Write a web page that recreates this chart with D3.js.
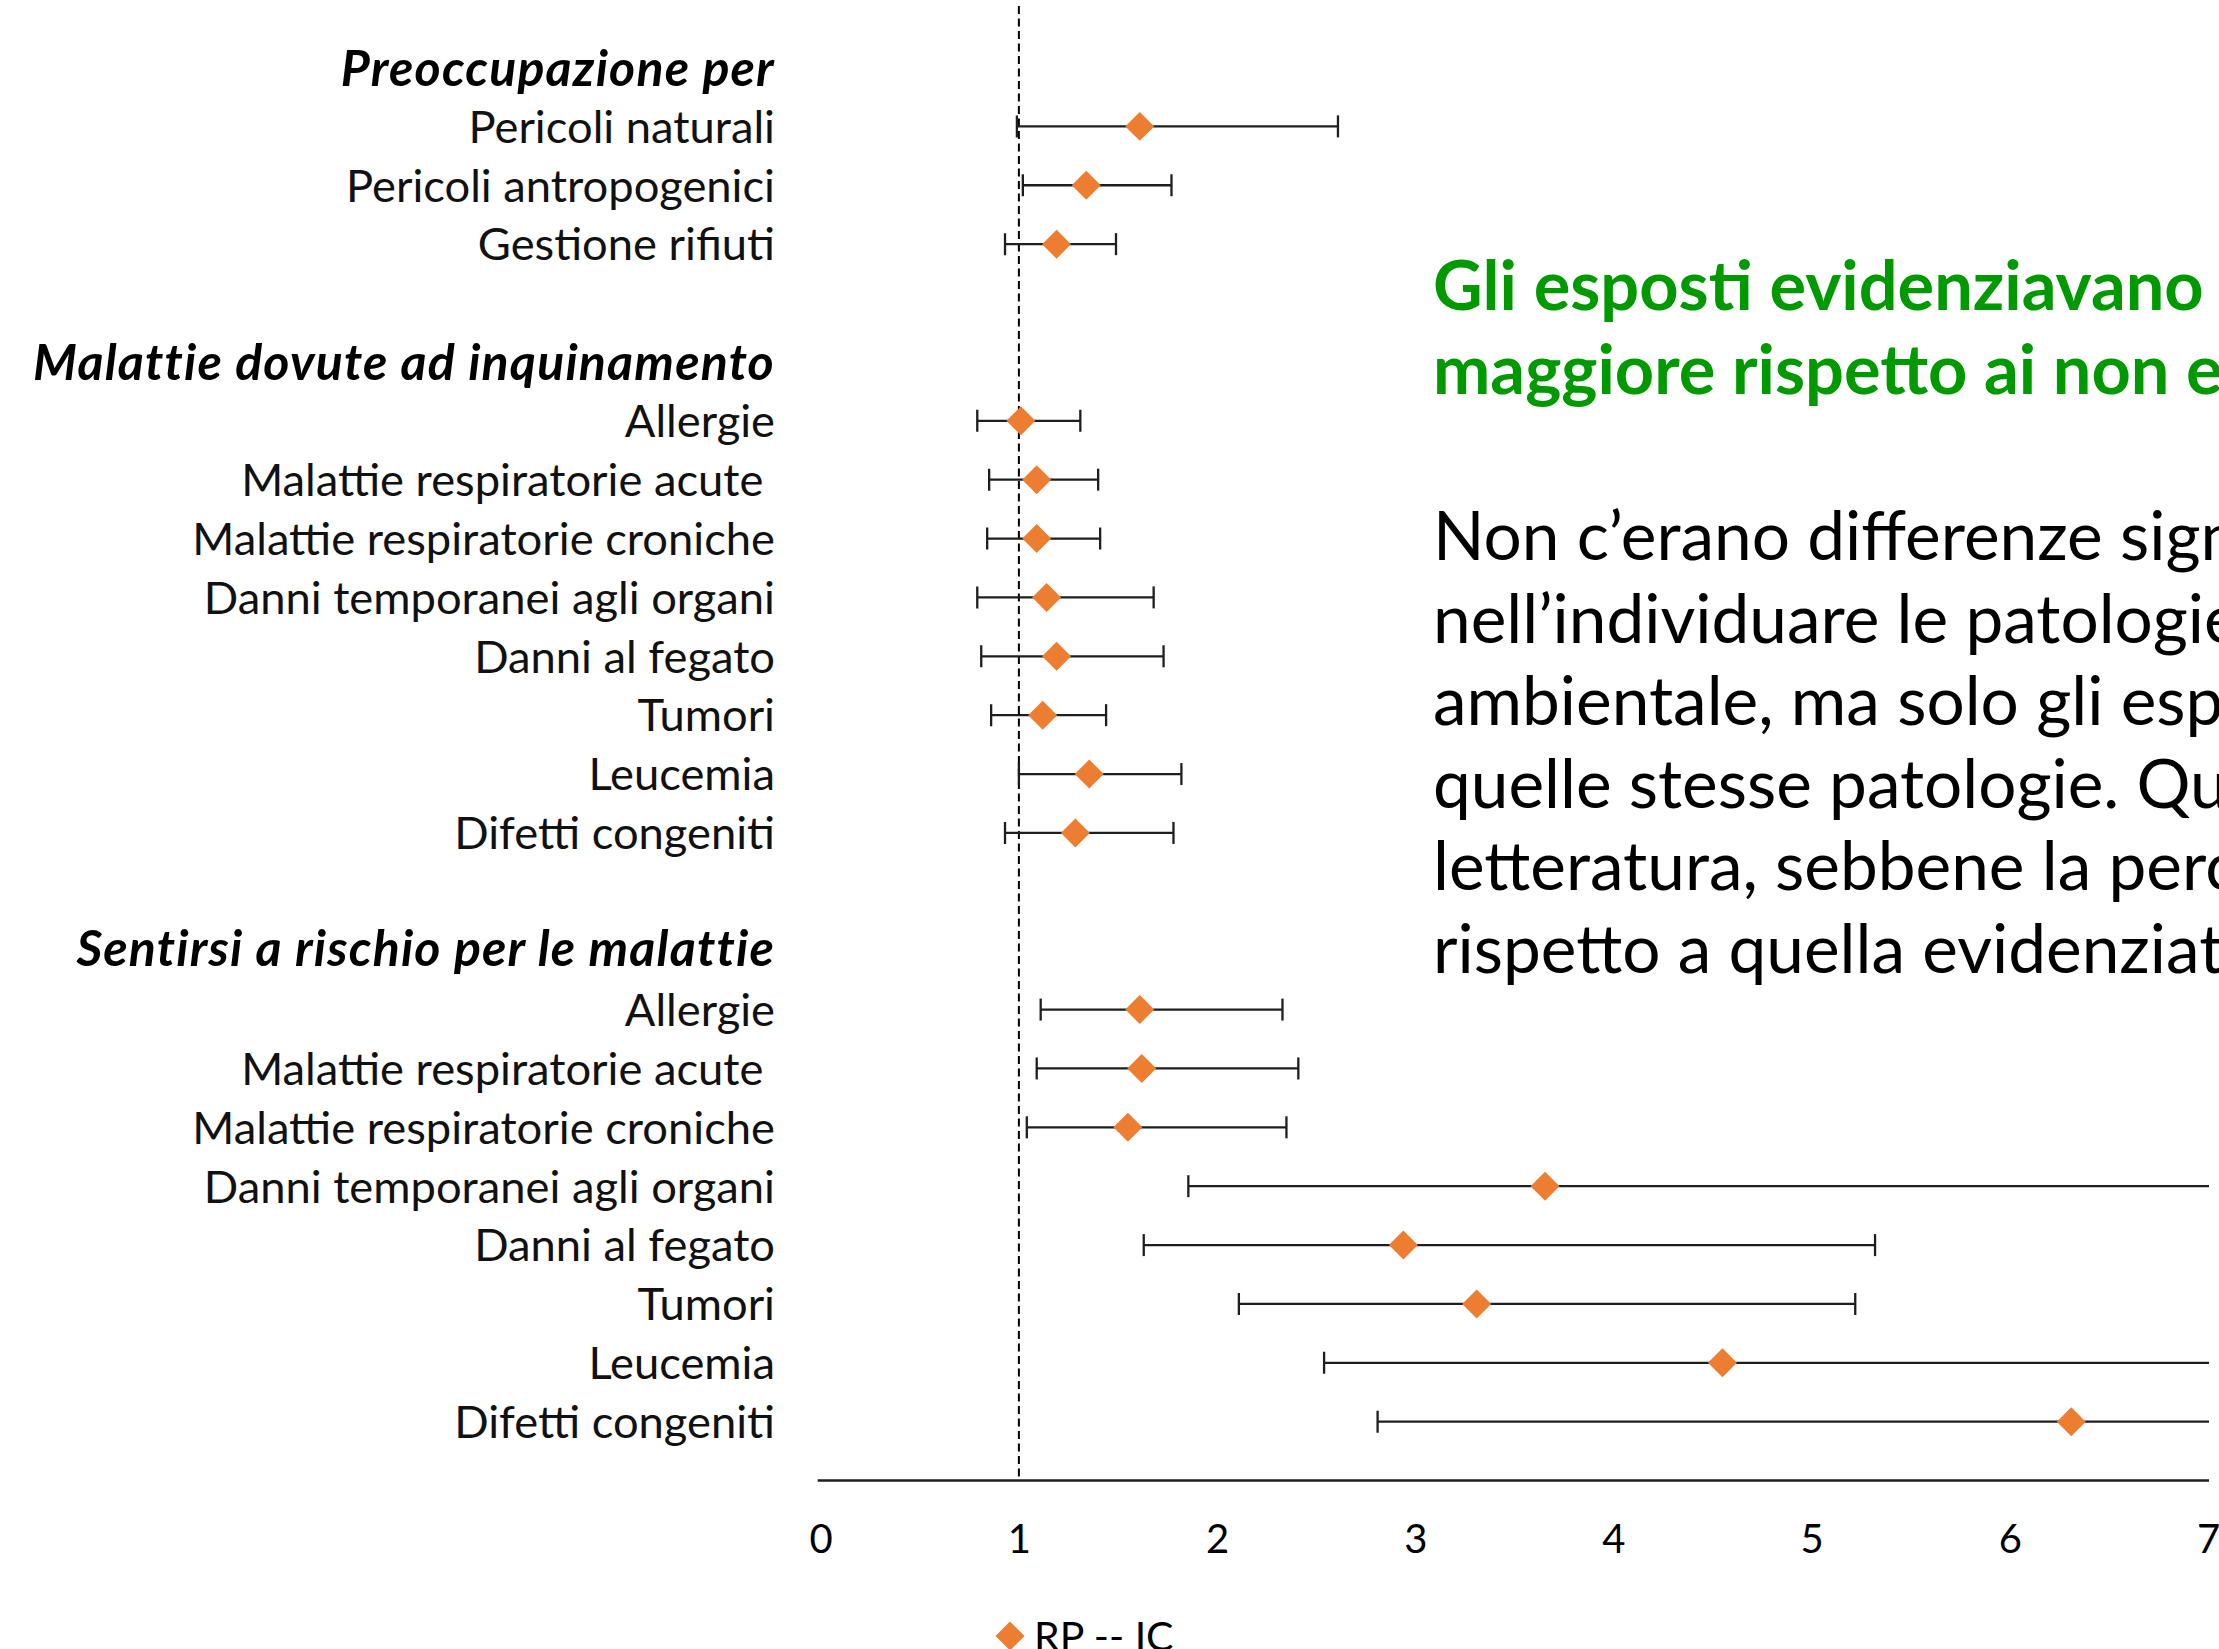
<!DOCTYPE html>
<html>
<head>
<meta charset="utf-8">
<script src="https://cdn.jsdelivr.net/npm/d3@7/dist/d3.min.js"></script>
<style>
  html, body { margin: 0; padding: 0; background: #ffffff; overflow: hidden; }
  svg { display: block; }
  text { white-space: pre; }
</style>
</head>
<body>
<svg id="chart" width="2219" height="1649"></svg>
<script>
// ---------- DATA ----------
const group1Title = "Preoccupazione per";
const group1Labels = ["Pericoli naturali", "Pericoli antropogenici", "Gestione rifiuti"];
const group1RP   = [1.61, 1.34, 1.19];
const group1Low  = [0.99, 1.02, 0.93];
const group1High = [2.61, 1.77, 1.49];

const group2Title = "Malattie dovute ad inquinamento";
const group2Labels = ["Allergie", "Malattie respiratorie acute ", "Malattie respiratorie croniche",
  "Danni temporanei agli organi", "Danni al fegato", "Tumori", "Leucemia", "Difetti congeniti"];
const group2RP   = [1.01, 1.09, 1.09, 1.14, 1.19, 1.12, 1.355, 1.285];
const group2Low  = [0.79, 0.85, 0.84, 0.79, 0.81, 0.86, 1.00, 0.93];
const group2High = [1.31, 1.40, 1.41, 1.68, 1.73, 1.44, 1.82, 1.78];

const group3Title = "Sentirsi a rischio per le malattie";
const group3Labels = ["Allergie", "Malattie respiratorie acute ", "Malattie respiratorie croniche",
  "Danni temporanei agli organi", "Danni al fegato", "Tumori", "Leucemia", "Difetti congeniti"];
const group3RP   = [1.61, 1.62, 1.55, 3.655, 2.94, 3.31, 4.55, 6.31];
const group3Low  = [1.11, 1.09, 1.04, 1.855, 1.63, 2.11, 2.54, 2.81];
const group3High = [2.33, 2.41, 2.35, 7.60, 5.32, 5.22, 8.10, 14.20];

const xTicks = [0, 1, 2, 3, 4, 5, 6, 7];
const referenceValue = 1;
const legendLabel = "RP -- IC";

const headlineLines = [
  "Gli esposti evidenziavano una",
  "maggiore rispetto ai non esposti"
];
const bodyLines = [
  "Non c\u2019erano differenze significative",
  "nell\u2019individuare le patologie legate",
  "ambientale, ma solo gli esposti",
  "quelle stesse patologie. Questo",
  "letteratura, sebbene la percezione",
  "rispetto a quella evidenziata in"
];

// ---------- LAYOUT ----------
const W = 2219, H = 1649;
const ORANGE = "#ED7D31";
const LINE = "#1e1e1e";
const labelFont = "Lato, 'Open Sans', sans-serif";

// build slot list
const slots = [];
function addGroup(title, labels, rp, lo, hi) {
  slots.push({type: "title", label: title});
  labels.forEach((l, i) => slots.push({type: "item", label: l, rp: rp[i], lo: lo[i], hi: hi[i]}));
}
addGroup(group1Title, group1Labels, group1RP, group1Low, group1High);
slots.push({type: "blank"});
addGroup(group2Title, group2Labels, group2RP, group2Low, group2High);
slots.push({type: "blank"});
addGroup(group3Title, group3Labels, group3RP, group3Low, group3High);
slots.push({type: "axis"});
slots.forEach((s, i) => s.idx = i);

const x = d3.scaleLinear().domain([0, 7]).range([820.7, 2208]);
const y = d3.scaleLinear().domain([0, slots.length - 1]).range([67.5, 1480.6]);
const axisY = y(slots.length - 1);

const svg = d3.select("#chart");
svg.append("rect").attr("width", W).attr("height", H).attr("fill", "#fff");

svg.append("defs").append("clipPath").attr("id", "plotclip")
  .append("rect").attr("x", x(0) - 40).attr("y", 0)
  .attr("width", x(7) - x(0) + 41).attr("height", axisY);

// reference dashed line
svg.append("line")
  .attr("x1", x(referenceValue)).attr("x2", x(referenceValue))
  .attr("y1", 6).attr("y2", axisY)
  .attr("stroke", "#000").attr("stroke-width", 2)
  .attr("stroke-dasharray", "8,4.5");

// x axis
const axis = d3.axisBottom(x).tickValues(xTicks).tickSize(0).tickSizeOuter(0)
  .tickPadding(44).tickFormat(d3.format("d"));
const gAxis = svg.append("g").attr("transform", `translate(0,${axisY})`).call(axis);
gAxis.select(".domain").attr("stroke", LINE).attr("stroke-width", 2.5)
  .attr("d", `M${x(0) - 3},0H${x(7) + 1}`);
gAxis.selectAll(".tick text")
  .attr("font-family", labelFont).attr("font-size", 40).attr("fill", "#000");

// row labels
const items = slots.filter(s => s.type === "item");
const titles = slots.filter(s => s.type === "title");

svg.append("g").selectAll("text").data(items).join("text")
  .attr("x", 775).attr("y", d => y(d.idx)).attr("dy", "0.36em")
  .attr("text-anchor", "end")
  .attr("font-family", labelFont).attr("font-size", 45.3).attr("fill", "#111")
  .text(d => d.label);

svg.append("g").selectAll("text").data(titles).join("text")
  .attr("x", 775).attr("y", d => y(d.idx) - (d.idx > 10 ? 3 : 0)).attr("dy", "0.36em")
  .attr("text-anchor", "end")
  .attr("font-family", labelFont).attr("font-size", 50).attr("letter-spacing", 1.2)
  .attr("font-weight", "bold").attr("font-style", "italic").attr("fill", "#000")
  .text(d => d.label);

// error bars
const plot = svg.append("g").attr("clip-path", "url(#plotclip)");
const bars = plot.selectAll("g.bar").data(items).join("g").attr("class", "bar");
bars.append("line")
  .attr("x1", d => x(d.lo)).attr("x2", d => x(d.hi))
  .attr("y1", d => y(d.idx)).attr("y2", d => y(d.idx))
  .attr("stroke", LINE).attr("stroke-width", 2.3);
bars.append("line")
  .attr("x1", d => x(d.lo)).attr("x2", d => x(d.lo))
  .attr("y1", d => y(d.idx) - 11).attr("y2", d => y(d.idx) + 11)
  .attr("stroke", LINE).attr("stroke-width", 2.3);
bars.append("line")
  .attr("x1", d => x(d.hi)).attr("x2", d => x(d.hi))
  .attr("y1", d => y(d.idx) - 11).attr("y2", d => y(d.idx) + 11)
  .attr("stroke", LINE).attr("stroke-width", 2.3);

// diamonds
const diamond = d3.symbol().type(d3.symbolSquare).size(420);
svg.append("g").selectAll("path").data(items).join("path")
  .attr("d", diamond)
  .attr("transform", d => `translate(${x(d.rp)},${y(d.idx)}) rotate(45)`)
  .attr("fill", ORANGE);

// legend
const lg = svg.append("g").attr("transform", "translate(1010,1636)");
lg.append("path").attr("d", diamond).attr("transform", "rotate(45)").attr("fill", ORANGE);
lg.append("text").attr("x", 24).attr("y", 0).attr("dy", "0.36em")
  .attr("font-family", labelFont).attr("font-size", 41).attr("fill", "#000")
  .text(legendLabel);

// right-hand text
const rightFont = "Lato, 'Noto Sans', sans-serif";
svg.append("g").selectAll("text").data(headlineLines).join("text")
  .attr("x", 1433).attr("y", (d, i) => 310 + i * 84)
  .attr("font-family", rightFont).attr("font-size", 68.5).attr("font-weight", "bold")
  .attr("fill", "#009A00")
  .text(d => d);
svg.append("g").selectAll("text").data(bodyLines).join("text")
  .attr("x", 1433).attr("y", (d, i) => 560 + i * 82.5)
  .attr("font-family", rightFont).attr("font-size", 67.5)
  .attr("fill", "#000")
  .text(d => d);
</script>
</body>
</html>
